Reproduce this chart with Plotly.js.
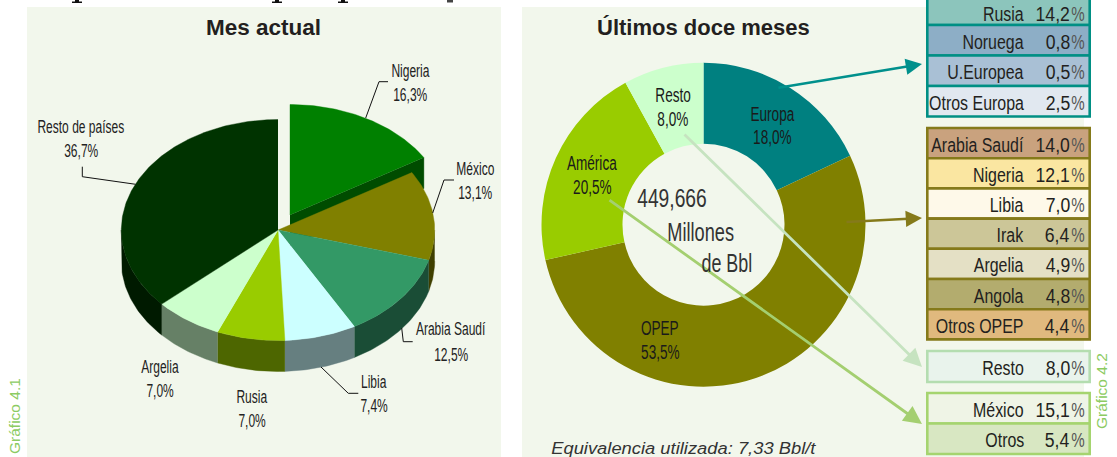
<!DOCTYPE html>
<html>
<head>
<meta charset="utf-8">
<script src="https://cdn.plot.ly/plotly-3.0.1.min.js"></script>
<style>html,body{margin:0;padding:0;background:#fff}#c{width:1117px;height:457px}</style>
</head>
<body>
<div id="c"></div>
<script>
// ---- data ----
const pieLabels = ['Nigeria','México','Arabia Saudí','Libia','Rusia','Argelia','Resto de países'];
const pieValues = [16.3,13.1,12.5,7.4,7.0,7.0,36.7];
const pieTop    = ['#008000','#808000','#339966','#CCFFFF','#99CC00','#CCFFCC','#003300'];
const pieSide   = ['#004C00','#3F3F00','#1A4D36','#667F80','#4D6600','#668066','#001A00'];

const ringLabels = ['Europa','OPEP','América','Resto'];
const ringValues = [18.0,53.5,20.5,8.0];
const ringColors = ['#008080','#808000','#99CC00','#CCFFCC'];

const europaLabels = ['Rusia','Noruega','U.Europea','Otros Europa'];
const europaValues = [14.2,0.8,0.5,2.5];
const europaFills  = ['#8CC5BC','#8DAEC6','#A9C0D5','#E1E8F0'];
const opepLabels = ['Arabia Saudí','Nigeria','Libia','Irak','Argelia','Angola','Otros OPEP'];
const opepValues = [14.0,12.1,7.0,6.4,4.9,4.8,4.4];
const opepFills  = ['#C9A27E','#FAE6A1','#FEF9E9','#CCC698','#E4E0C5','#B3AC6E','#E0B97E'];
const restoLabels = ['Resto'];
const restoValues = [8.0];
const restoFills  = ['#E9F3EC'];
const americaLabels = ['México','Otros'];
const americaValues = [15.1,5.4];
const americaFills  = ['#EFF4E6','#D8E7C2'];

// ---- helpers ----
const fmt = v => v.toFixed(1).replace('.', ',');
const SANS = '"Liberation Sans",Arial,sans-serif';
const INK = '#231F20';
const shapes = [], annotations = [], traces = [], stretch = {};

// text with an optional horizontal squeeze (sx) about its anchor
function txt(x, y, text, size, opt, sx) {
  if(sx) stretch[annotations.length] = sx;
  annotations.push(Object.assign({
    xref:'x', yref:'y', x, y, text, showarrow:false, xanchor:'center', yanchor:'middle',
    borderpad:0, font:{family:SANS, size, color:INK}
  }, opt || {}));
}
function rect(x0,y0,x1,y1,fill,line,w){
  shapes.push({type:'rect',xref:'x',yref:'y',x0,y0,x1,y1,fillcolor:fill,layer:'below',
    line:line?{color:line,width:w}:{width:0}});
}

// panels
rect(27,7,501,457,'#F2F7EC');
rect(522,7,1084,457,'#F2F7EC');

// ---- 3D pie computed from values ----
const C = {x:278, y:230, rx:156.7, ry:110.5, d:31, ox:12, oy:-15};
const pt = (deg, dx, dy) => {
  const a = deg*Math.PI/180;
  return [C.x+(dx||0)+C.rx*Math.sin(a), C.y+(dy||0)-C.ry*Math.cos(a)];
};
function poly(points, color){
  traces.push({type:'scatter',mode:'lines',x:points.map(p=>p[0]),y:points.map(p=>p[1]),
    fill:'toself',fillcolor:color,line:{color:color,width:0.4},hoverinfo:'skip',showlegend:false});
}
function arc(a0,a1,dx,dy){
  const out=[]; const n=Math.max(2,Math.ceil(Math.abs(a1-a0)));
  for(let i=0;i<=n;i++) out.push(pt(a0+(a1-a0)*i/n,dx,dy));
  return out;
}
const total = pieValues.reduce((a,b)=>a+b,0);
let acc = 0;
const spans = pieValues.map(v=>{const s=[acc,acc+v/total*360];acc=s[1];return s;});
{
  const e = pt(spans[0][1],C.ox,C.oy);
  const ax = C.x+C.ox, ay = C.y+C.oy;
  poly([[ax,ay],e,[e[0],e[1]+C.d],[ax,ay+C.d]],pieSide[0]);
}
spans.forEach((s,i)=>{
  if(i===0) return;
  const a0=Math.max(s[0],90), a1=Math.min(s[1],270);
  if(a1<=a0) return;
  poly(arc(a0,a1).concat(arc(a1,a0,0,C.d)),pieSide[i]);
});
spans.forEach((s,i)=>{
  if(i===0) return;
  poly([[C.x,C.y]].concat(arc(s[0],s[1])),pieTop[i]);
});
poly([[C.x+C.ox,C.y+C.oy]].concat(arc(spans[0][0],spans[0][1],C.ox,C.oy)),pieTop[0]);

// pie labels
const pieLabelPos = [[410,70,94],[475,168,192],[451,328,354],[374,381,405],[252,396,420],[160,366,390],[81,126,150]];
pieLabels.forEach((l,i)=>{
  const p=pieLabelPos[i];
  txt(p[0],p[1],l,18.5,{font:{family:SANS,size:18.5,color:'#222'}},0.65);
  txt(p[0],p[2],fmt(pieValues[i])+'%',18.5,{font:{family:SANS,size:18.5,color:'#222'}},0.65);
});
// leaders
[[[365.7,118],[379,81.7],[388,81.7]],
 [[432.7,213],[444,180],[454,180]],
 [[401.7,328],[403.3,341.7],[412.7,341.7]],
 [[321,367],[348.3,393.3],[358.3,393.3]],
 [[135.7,184.3],[82.3,176.7],[82.3,166.7]]].forEach(L=>{
  shapes.push({type:'path',xref:'x',yref:'y',layer:'above',
    path:'M'+L.map(p=>p.join(',')).join('L'),line:{color:'#111',width:1}});
});

// ---- donut ----
const R = {x:703.5,y:224.7,r:162};
traces.push({type:'pie',labels:ringLabels,values:ringValues,sort:false,direction:'clockwise',rotation:0,
  hole:0.5,textinfo:'none',hoverinfo:'skip',showlegend:false,
  marker:{colors:ringColors,line:{width:0}},
  domain:{x:[(R.x-R.r)/1117,(R.x+R.r)/1117],y:[1-(R.y+R.r)/457,1-(R.y-R.r)/457]}});
const ringLabelPos = [[772,114,137],[660,328,352],[592,163,187],[673,95,119]];
ringLabels.forEach((l,i)=>{
  const p=ringLabelPos[i];
  txt(p[0],p[1],l,20,{font:{family:SANS,size:20,color:'#1a1a1a'}},0.68);
  txt(p[0],p[2],fmt(ringValues[i])+'%',20,{font:{family:SANS,size:20,color:'#1a1a1a'}},0.68);
});

// ---- arrows ----
function arrow(x0,y0,x1,y1,color,w){
  annotations.push({xref:'x',yref:'y',axref:'x',ayref:'y',x:x1,y:y1,ax:x0,ay:y0,text:'',showarrow:true,
    arrowhead:2,arrowsize:1.3,arrowwidth:w,arrowcolor:color});
}
arrow(777,88,922,64,'#00908C',2.5);
arrow(845,222,922,218,'#857A1A',2.5);
arrow(683,133,922,367,'#C6E3C0',2.8);
arrow(608,199,922,424,'#A4CF70',2.8);

// centre text
const centreFont = {family:SANS,size:26,color:'#333'};
txt(672,198,'449,666',26,{font:centreFont},0.74);
txt(700,232,'Millones',26,{font:centreFont},0.70);
txt(727,263,'de Bbl',26,{font:centreFont},0.69);

// ---- tables ----
function table(labels,values,fills,top,step,border){
  labels.forEach((l,i)=>{
    const y0=top+i*step, y1=y0+step;
    rect(927.3,y0,1089.7,y1,fills[i],border,2.6);
    const ym=Math.max((y0+y1)/2+1,13);
    txt(1025,ym,l,21,{xanchor:'right'},0.76);
    txt(1071,ym,fmt(values[i]),21,{xanchor:'right'},0.84);
    txt(1086,ym,'%',21,{xanchor:'right',font:{family:SANS,size:21,color:'#555'}},0.72);
  });
}
table(europaLabels,europaValues,europaFills,-5.5,30.5,'#008F84');
table(opepLabels,opepValues,opepFills,128,30.2,'#857A1A');
table(restoLabels,restoValues,restoFills,351,31,'#B4DDB0');
table(americaLabels,americaValues,americaFills,393,30.5,'#A5D46F');

// ---- titles and notes ----
txt(263.5,27,'Mes actual',22.5,{font:{family:SANS,size:22.5,color:INK,weight:700}});
txt(703,27,'Últimos doce meses',22,{font:{family:SANS,size:22,color:INK,weight:700}});
txt(684,448,'<i>Equivalencia utilizada: 7,33 Bbl/t</i>',17,{font:{family:SANS,size:17,color:'#333'}},1.08);
txt(14,416,'Gráfico 4.1',15.5,{textangle:-90,font:{family:SANS,size:15.5,color:'#8CCB62'}});
txt(1101,391,'Gráfico 4.2',15.5,{textangle:-90,font:{family:SANS,size:15.5,color:'#8CCB62'}});

// remnants of the page heading that is cut away above the panels
[72,272,338].forEach(x=>{
  rect(x,1.5,x+10,3,'#111');
  rect(x+3,0,x+7,2,'#111');
});
rect(447,0,453,2.5,'#444');

const layout = {
  width:1117,height:457,margin:{l:0,r:0,t:0,b:0,pad:0},
  paper_bgcolor:'#fff',plot_bgcolor:'rgba(0,0,0,0)',showlegend:false,hovermode:false,
  xaxis:{range:[0,1117],visible:false,fixedrange:true},
  yaxis:{range:[457,0],visible:false,fixedrange:true},
  shapes,annotations
};
Plotly.newPlot('c',traces,layout,{displayModeBar:false,staticPlot:true}).then(gd=>{
  Object.keys(stretch).forEach(i=>{
    const g = gd.querySelector('.annotation[data-index="'+i+'"] text');
    if(!g) return;
    const b = g.getBBox();
    const a = annotations[i].xanchor==='right' ? b.x+b.width : b.x+b.width/2;
    g.setAttribute('transform','translate('+a+',0) scale('+stretch[i]+',1) translate('+(-a)+',0)');
  });
});
</script>
</body>
</html>
